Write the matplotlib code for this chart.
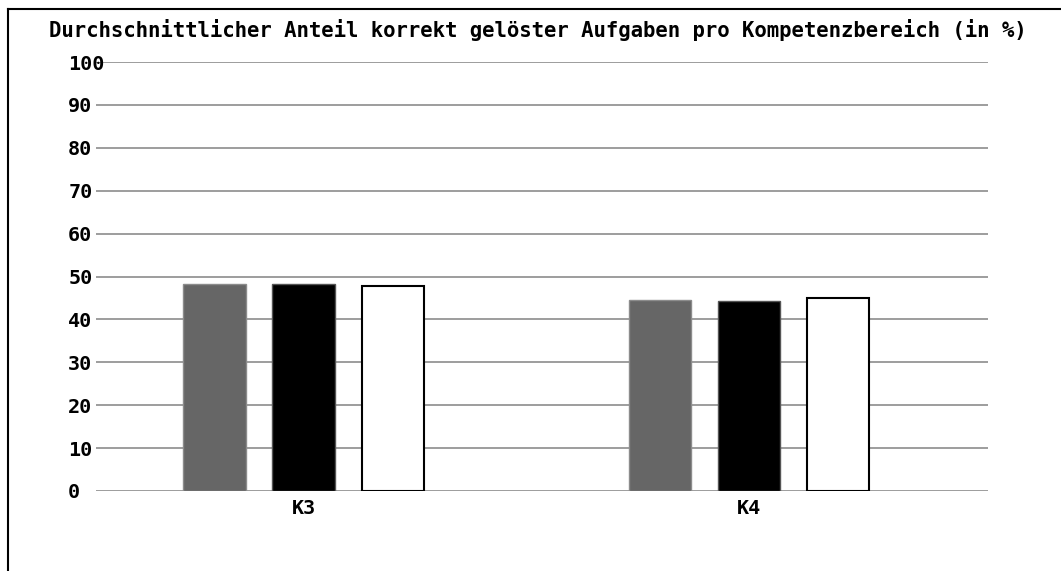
import numpy as np
import matplotlib.pyplot as plt
from matplotlib.lines import Line2D

# --- Datos ---
categories = ['K3', 'K4']
series_gray = [48.3, 44.5]
series_black = [48.3, 44.3]
series_white = [47.8, 45.0]
y_ticks = [0, 10, 20, 30, 40, 50, 60, 70, 80, 90, 100]

title = 'Durchschnittlicher Anteil korrekt gelöster Aufgaben pro Kompetenzbereich (in %)'

W, H = 1061, 571
fig = plt.figure(figsize=(W / 100, H / 100), dpi=100)
fig.patch.set_facecolor('white')

ax = fig.add_axes([96 / W, 80 / H, (988 - 96) / W, (491 - 62) / H])

x = np.arange(len(categories))
width = 0.141
step = 0.2

ax.bar(x - step, series_gray, width, color='#666666', edgecolor='#8c8c8c', linewidth=1, zorder=3)
ax.bar(x, series_black, width, color='#000000', edgecolor='#555555', linewidth=1, zorder=3)
ax.bar(x + step, series_white, width, color='#ffffff', edgecolor='#000000', linewidth=1.5, zorder=3)

ax.set_xlim(-0.467, 1.537)
ax.set_ylim(0, 100)
ax.set_yticks(y_ticks)
ax.set_xticks(x)
ax.set_xticklabels(categories)

font = dict(family='DejaVu Sans Mono', weight='bold')
for lab in ax.get_yticklabels() + ax.get_xticklabels():
    lab.set_fontfamily('DejaVu Sans Mono')
    lab.set_fontweight('bold')
    lab.set_fontsize(14.5)
for lab in ax.get_yticklabels():
    lab.set_horizontalalignment('left')

ax.tick_params(axis='y', length=0, pad=20)
ax.tick_params(axis='x', length=0, pad=6)
ax.grid(axis='y', color='#8c8c8c', linewidth=1.2, zorder=0)
for s in ax.spines.values():
    s.set_visible(False)

fig.text(538 / W, 1 - 30 / H, title, ha='center', va='center', fontsize=14.9, **font)

# Rahmen oben und links
fig.add_artist(Line2D([8 / W, 1], [1 - 9 / H, 1 - 9 / H], color='black', linewidth=1.5))
fig.add_artist(Line2D([8 / W, 8 / W], [0, 1 - 9 / H], color='black', linewidth=1.5))

fig.savefig('out.png', dpi=100)
